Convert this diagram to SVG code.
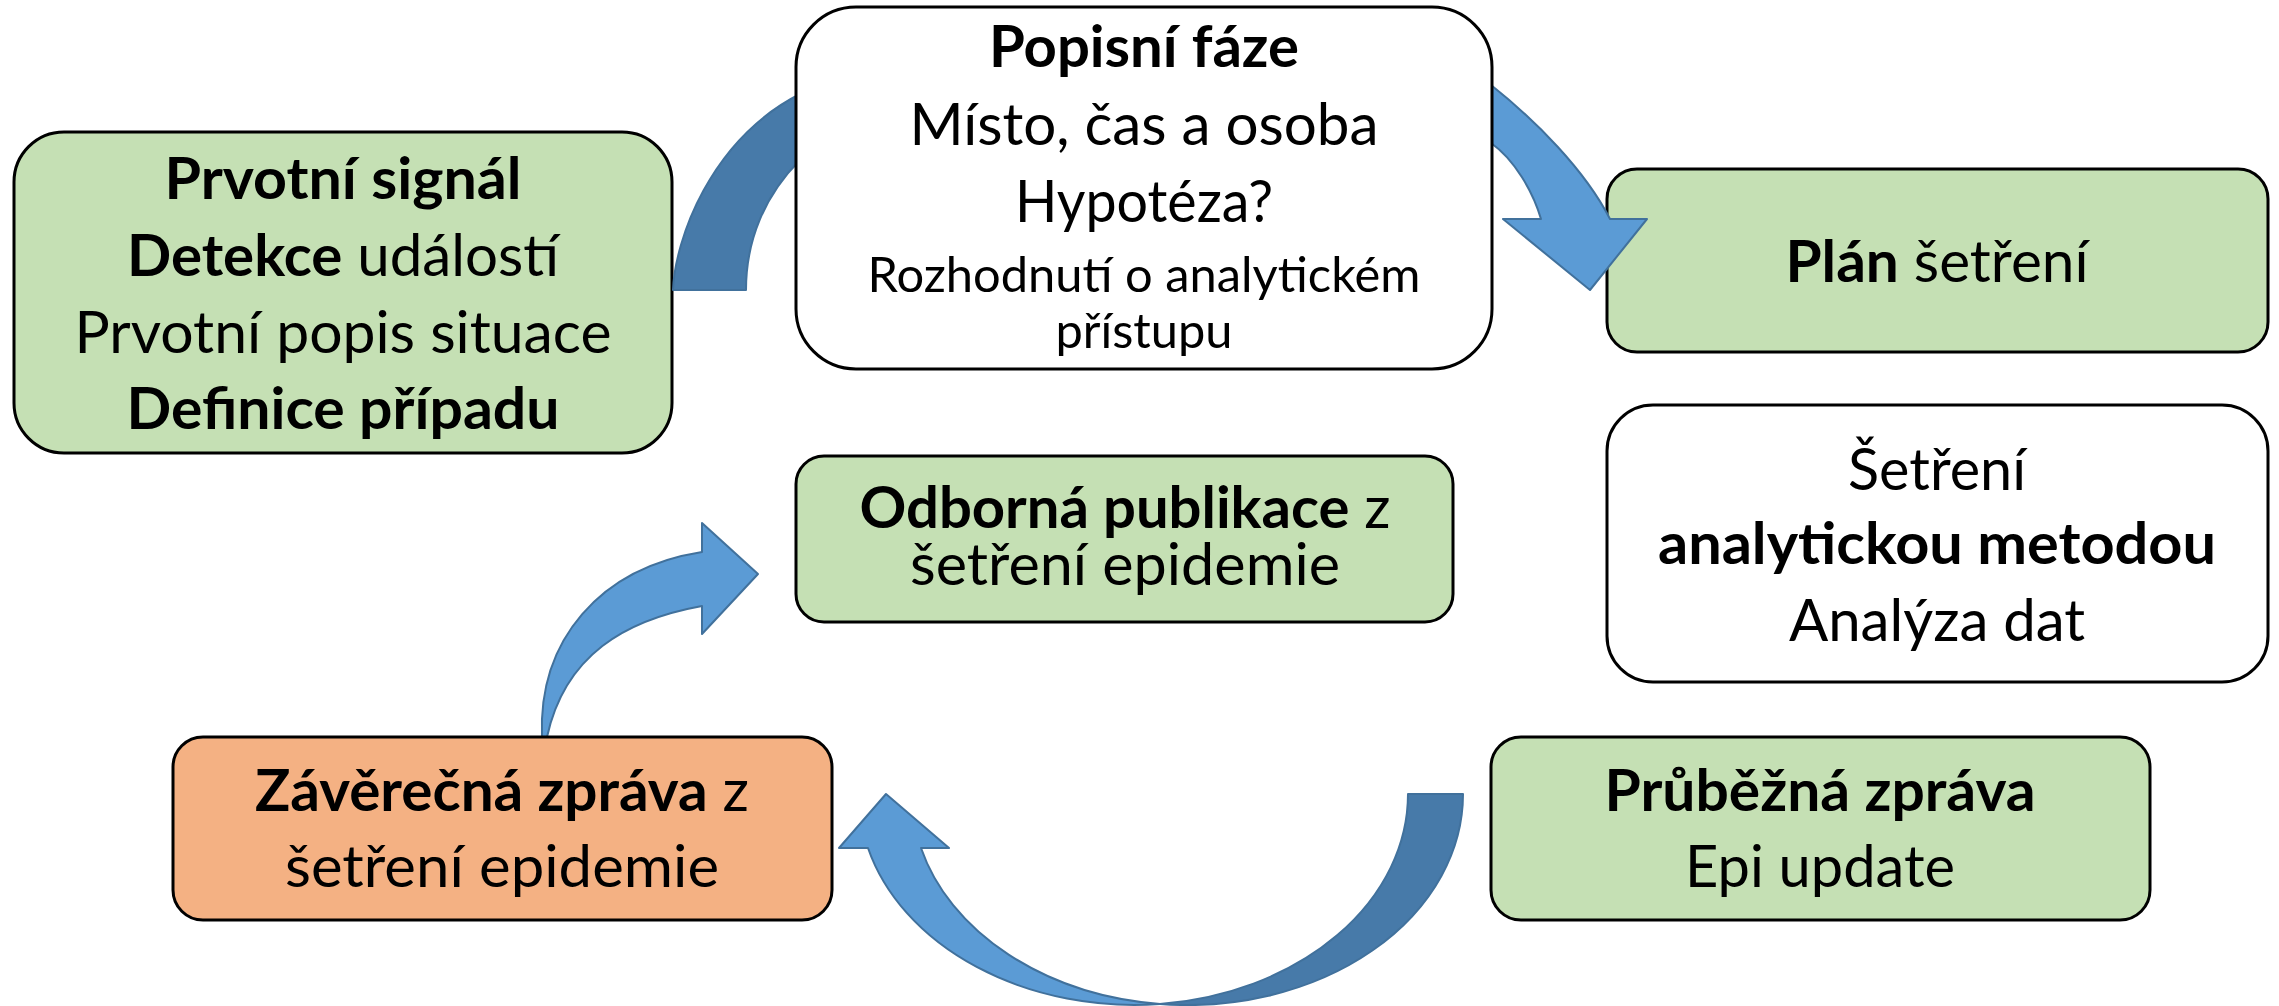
<svg xmlns="http://www.w3.org/2000/svg" width="2279" height="1006" viewBox="0 0 2279 1006">
<style>
.box{stroke:#000;stroke-width:3}
.green{fill:#C5E0B4}
.white{fill:#FFFFFF}
.orange{fill:#F4B183}
text{font-family:Lato,"Liberation Sans",sans-serif;fill:#000;text-anchor:middle}
.big{font-size:58px}
.small{font-size:49px}
.b{font-weight:bold}
.light{fill:#5B9BD5;stroke:#41719C;stroke-width:2;stroke-linejoin:round}
.dark{fill:#477AA9;stroke:#41719C;stroke-width:2;stroke-linejoin:round}
</style>
<rect width="2279" height="1006" fill="#FFFFFF"/>

<g id="node-prvotni-signal">
<rect class="box green" x="14" y="132" width="658" height="321" rx="50" ry="50"/>
<text class="big b" x="343" y="199" textLength="357" lengthAdjust="spacingAndGlyphs">Prvotní signál</text>
<text class="big" x="343" y="276" textLength="432" lengthAdjust="spacingAndGlyphs"><tspan class="b">Detekce</tspan> událostí</text>
<text class="big" x="343" y="353" textLength="537" lengthAdjust="spacingAndGlyphs">Prvotní popis situace</text>
<text class="big b" x="343" y="429" textLength="433" lengthAdjust="spacingAndGlyphs">Definice případu</text>
</g>

<g id="node-plan">
<rect class="box green" x="1607" y="169" width="661" height="183" rx="30" ry="30"/>
<text class="big" x="1937" y="282" textLength="303" lengthAdjust="spacingAndGlyphs"><tspan class="b">Plán</tspan> šetření</text>
</g>

<g id="node-analyticka">
<rect class="box white" x="1607" y="405" width="661" height="277" rx="46" ry="46"/>
<text class="big" x="1937" y="490" textLength="178" lengthAdjust="spacingAndGlyphs">Šetření</text>
<text class="big b" x="1937" y="564" textLength="558" lengthAdjust="spacingAndGlyphs">analytickou metodou</text>
<text class="big" x="1937" y="641" textLength="296" lengthAdjust="spacingAndGlyphs">Analýza dat</text>
</g>

<g id="node-publikace">
<rect class="box green" x="796" y="456" width="657" height="166" rx="28" ry="28"/>
<text class="big" x="1125" y="528" textLength="531" lengthAdjust="spacingAndGlyphs"><tspan class="b">Odborná publikace</tspan> z</text>
<text class="big" x="1125" y="585" textLength="430" lengthAdjust="spacingAndGlyphs">šetření epidemie</text>
</g>

<g id="node-prubezna">
<rect class="box green" x="1491" y="737" width="659" height="183" rx="30" ry="30"/>
<text class="big b" x="1820" y="811" textLength="431" lengthAdjust="spacingAndGlyphs">Průběžná zpráva</text>
<text class="big" x="1820" y="887" textLength="270" lengthAdjust="spacingAndGlyphs">Epi update</text>
</g>

<g id="connectors">
<path class="dark" d="M673,290 C675,240 710,140 800,94 L840,80 L840,150 L800,160 C765,195 746,240 746,290 Z"/>
<path class="light" d="M1470,75 L1491,85 C1535,120 1585,170 1610,219 L1647,219 L1590,290 L1503,219 L1541,219 C1533,192 1515,160 1491,143 L1470,135 Z"/>
<path class="dark" d="M1408,794 L1463,794 A275.5,211 0 0 1 1160,1004 A275.5,211 0 0 0 1408,794 Z"/>
<path class="light" d="M1160,1004 A275.5,211 0 0 1 868,848 L839,848 L886,794 L949,848 L921,848 A275.5,211 0 0 0 1160,1004 Z"/>
<path class="light" d="M542,737 C538,640 600,568 702,552 L702,523 L758,574 L702,634 L702,606 C625,620 565,655 547,737 Z"/>
</g>

<g id="node-popisni-faze">
<rect class="box white" x="796" y="7" width="696" height="362" rx="60" ry="60"/>
<text class="big b" x="1144" y="67" textLength="310" lengthAdjust="spacingAndGlyphs">Popisní fáze</text>
<text class="big" x="1144" y="145" textLength="469" lengthAdjust="spacingAndGlyphs">Místo, čas a osoba</text>
<text class="big" x="1144" y="222" textLength="258" lengthAdjust="spacingAndGlyphs">Hypotéza?</text>
<text class="small" x="1144" y="292" textLength="553" lengthAdjust="spacingAndGlyphs">Rozhodnutí o analytickém</text>
<text class="small" x="1144" y="348" textLength="177" lengthAdjust="spacingAndGlyphs">přístupu</text>
</g>

<g id="node-zaverecna">
<rect class="box orange" x="173" y="737" width="659" height="183" rx="30" ry="30"/>
<text class="big" x="502" y="811" textLength="494" lengthAdjust="spacingAndGlyphs"><tspan class="b">Závěrečná zpráva</tspan> z</text>
<text class="big" x="502" y="887" textLength="434" lengthAdjust="spacingAndGlyphs">šetření epidemie</text>
</g>
</svg>
